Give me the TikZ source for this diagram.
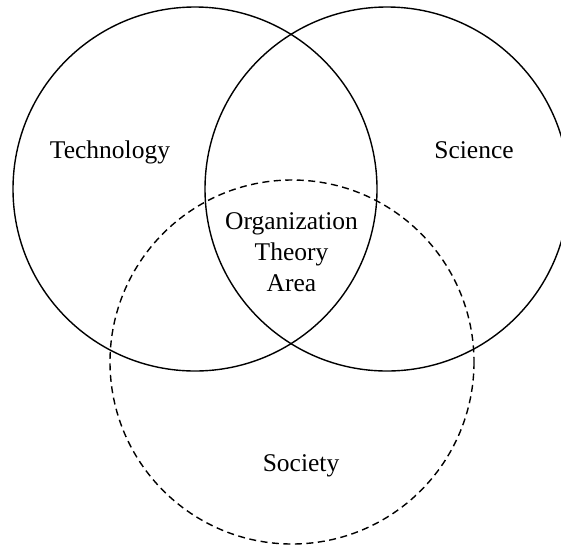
\documentclass[tikz,border=0pt]{standalone}
\usepackage{fontspec}
\setmainfont{Liberation Serif}
\begin{document}
\begin{tikzpicture}[x=1pt,y=-1pt,
  ring/.style={line width=1.4pt},
  dashring/.style={line width=1.4pt, dash pattern=on 7pt off 4.5pt},
  lbl/.style={font=\fontsize{25.5}{31}\selectfont, anchor=base, inner sep=0pt, align=center}]
\useasboundingbox (0,0) rectangle (561,546);
\clip (0,0) rectangle (561,546);
\fill[white] (0,0) rectangle (561,546);
\draw[ring] (195,189) circle[radius=182];
\draw[ring] (387,189) circle[radius=182];
\draw[dashring] (292,362) circle[radius=182];
\node[lbl] (tech) at (110,158) {Technology};
\node[lbl] (sci) at (474,158) {Science};
\node[lbl, anchor=north] (org) at (291.5,212) {Organization\\Theory\\Area};
\node[lbl] (soc) at (301,471) {Society};
\end{tikzpicture}
\end{document}
